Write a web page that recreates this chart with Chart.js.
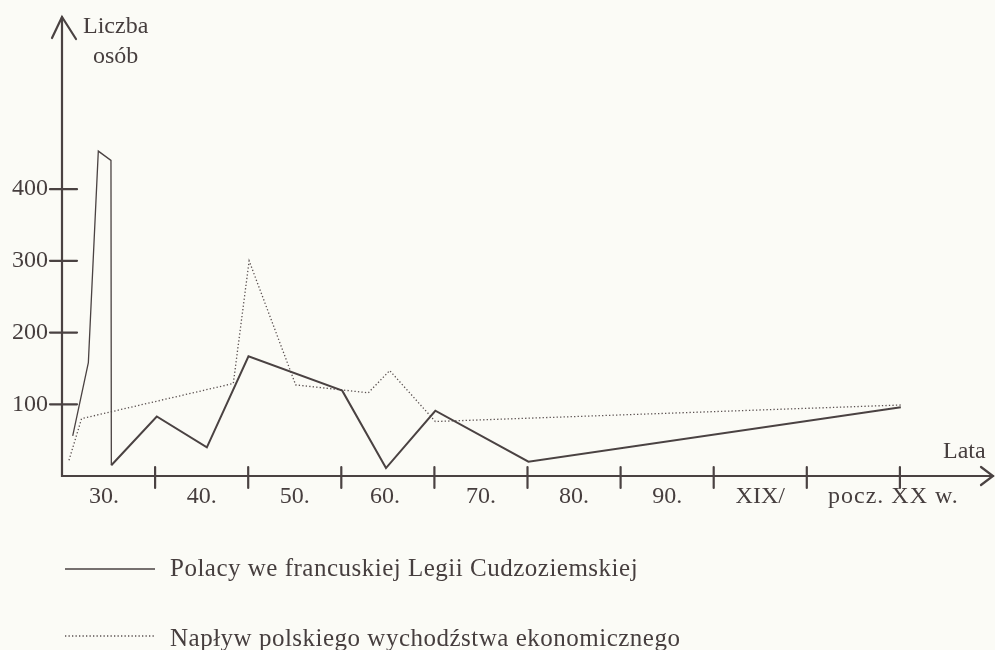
<!DOCTYPE html>
<html>
<head>
<meta charset="utf-8">
<script src="https://cdn.jsdelivr.net/npm/chart.js@4"></script>
<style>
  html, body { margin: 0; padding: 0; background: #fbfbf6; }
  canvas { display: block; }
</style>
</head>
<body>
<canvas id="c" width="995" height="650"></canvas>
<script>
// ---- data ----
const solidLabel = 'Polacy we francuskiej Legii Cudzoziemskiej';
const solidX = [0.115, 0.283, 0.39, 0.526, 0.53, 1.018, 1.556, 2.003, 3.01, 3.48, 4.01, 5.01, 9.01];
const solidY = [56, 158, 453, 440, 15, 83, 40, 167, 119, 11, 91, 20, 96];

const dottedLabel = 'Napływ polskiego wychodźstwa ekonomicznego';
const dottedX = [0.075, 0.21, 1.84, 2.01, 2.51, 3.01, 3.29, 3.52, 4.01, 9.01];
const dottedY = [22, 80, 129, 300, 127, 120, 116, 147, 76, 99];

const yTicks = [100, 200, 300, 400];
const xTicks = [1, 2, 3, 4, 5, 6, 7, 8, 9];
const xLabels = ['30.', '40.', '50.', '60.', '70.', '80.', '90.', 'XIX/', 'pocz. XX w.'];
const xLabelPos = [0.45, 1.5, 2.5, 3.47, 4.5, 5.5, 6.5, 7.5, 8.93];
const yTitle = ['Liczba', 'osób'];
const xTitle = 'Lata';

const INK = '#4a4242';
const TEXT = '#463e3e';
const FONT = '24px "Liberation Serif", "DejaVu Serif", serif';
const LEGEND_FONT = '25px "Liberation Serif", "DejaVu Serif", serif';

const pts = (xs, ys) => xs.map((x, i) => ({ x: x, y: ys[i] }));

const decor = {
  id: 'decor',
  beforeDraw(chart) {
    const c = chart.ctx;
    c.save();
    c.fillStyle = '#fbfbf6';
    c.fillRect(0, 0, chart.width, chart.height);
    c.restore();
  },
  beforeDatasetsDraw(chart) {
    const c = chart.ctx, xs = chart.scales.x, ys = chart.scales.y;
    const x0 = xs.getPixelForValue(0), y0 = ys.getPixelForValue(0);
    const xEnd = xs.getPixelForValue(xs.max), yTop = ys.getPixelForValue(ys.max);
    c.save();
    c.strokeStyle = INK;
    c.lineWidth = 2.2;
    c.lineCap = 'round';
    // axes
    c.beginPath();
    c.moveTo(x0, yTop); c.lineTo(x0, y0); c.lineTo(xEnd, y0);
    c.stroke();
    // y arrow
    c.beginPath();
    c.moveTo(x0 - 10, yTop + 21); c.lineTo(x0, yTop); c.lineTo(x0 + 14, yTop + 22);
    c.stroke();
    // x arrow
    c.beginPath();
    c.moveTo(xEnd - 12, y0 - 9); c.lineTo(xEnd, y0); c.lineTo(xEnd - 12, y0 + 9);
    c.stroke();
    // y ticks
    c.font = FONT; c.fillStyle = TEXT;
    c.textAlign = 'right'; c.textBaseline = 'middle';
    yTicks.forEach(v => {
      const py = ys.getPixelForValue(v);
      c.beginPath(); c.moveTo(x0 - 12, py); c.lineTo(x0 + 15, py); c.stroke();
      c.fillText(String(v), x0 - 14, py);
    });
    // x ticks
    xTicks.forEach(v => {
      const px = xs.getPixelForValue(v);
      c.beginPath(); c.moveTo(px, y0 - 9); c.lineTo(px, y0 + 12); c.stroke();
    });
    c.textAlign = 'center'; c.textBaseline = 'alphabetic';
    xLabels.forEach((t, i) => {
      c.letterSpacing = t.length > 5 ? '1px' : '0px';
      c.fillText(t, xs.getPixelForValue(xLabelPos[i]), y0 + 27);
    });
    c.letterSpacing = '0px';
    // titles
    c.textAlign = 'left';
    c.fillText(yTitle[0], x0 + 21, 33);
    c.fillText(yTitle[1], x0 + 31, 63);
    c.fillText(xTitle, 943, y0 - 18);
    c.restore();
  },
  afterDraw(chart) {
    const c = chart.ctx;
    c.save();
    c.font = LEGEND_FONT; c.fillStyle = TEXT;
    c.letterSpacing = '0.5px';
    c.textAlign = 'left'; c.textBaseline = 'alphabetic';
    chart.data.datasets.forEach((ds, i) => {
      const ly = i === 0 ? 569 : 636;
      c.beginPath();
      c.strokeStyle = ds.borderColor;
      c.lineWidth = i === 0 ? 1.6 : 1.3;
      c.setLineDash(ds.borderDash || []);
      c.moveTo(65, ly); c.lineTo(155, ly);
      c.stroke();
      c.setLineDash([]);
      c.fillText(ds.label, 170, ly + (i === 0 ? 7 : 10));
    });
    c.restore();
  }
};

new Chart(document.getElementById('c'), {
  type: 'line',
  data: {
    datasets: [
      {
        label: solidLabel,
        data: pts(solidX, solidY),
        borderColor: INK,
        borderWidth: 2,
        pointRadius: 0,
        tension: 0,
        fill: false,
        segment: {
          borderWidth: ctx => (ctx.p0DataIndex < 4 ? 1.3 : 2)
        }
      },
      {
        label: dottedLabel,
        data: pts(dottedX, dottedY),
        borderColor: '#5a5050',
        borderWidth: 1.3,
        borderDash: [1.3, 2.2],
        pointRadius: 0,
        tension: 0,
        fill: false
      }
    ]
  },
  options: {
    responsive: false,
    animation: false,
    devicePixelRatio: 1,
    layout: { padding: { left: 62, right: 2, top: 17, bottom: 174 } },
    plugins: { legend: { display: false }, tooltip: { enabled: false } },
    scales: {
      x: { type: 'linear', min: 0, max: 10, display: false },
      y: { type: 'linear', min: 0, max: 640, display: false }
    }
  },
  plugins: [decor]
});
</script>
</body>
</html>
